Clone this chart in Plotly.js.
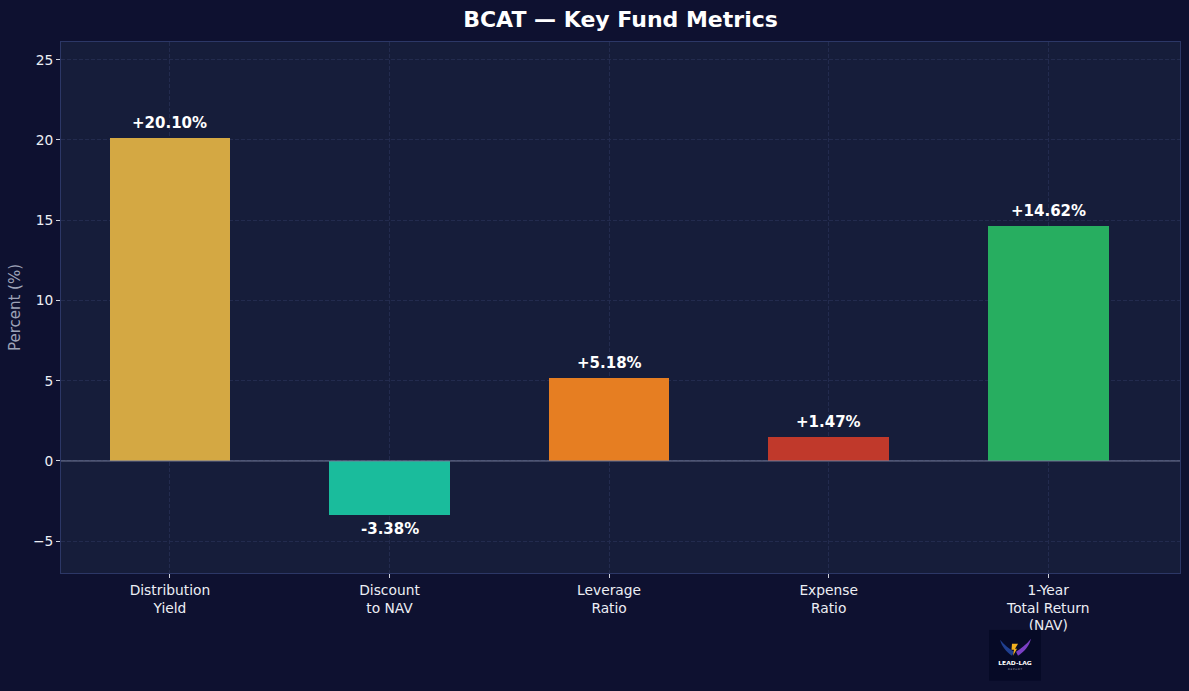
<!DOCTYPE html>
<html>
<head>
<meta charset="utf-8">
<script src="https://cdn.plot.ly/plotly-3.0.1.min.js"></script>
<style>html,body{margin:0;padding:0;background:#0e1130;}#chart{width:1189px;height:691px;}</style>
</head>
<body>
<div id="chart"></div>
<script>
const categories = ["Distribution<br>Yield", "Discount<br>to NAV", "Leverage<br>Ratio", "Expense<br>Ratio", "1-Year<br>Total Return<br>(NAV)"];
const values = [20.10, -3.38, 5.18, 1.47, 14.62];
const barColors = ["#d4a843", "#1abc9c", "#e67e22", "#c0392b", "#27ae60"];
const yTickVals = [-5, 0, 5, 10, 15, 20, 25];
const yTickText = ["\u22125", "0", "5", "10", "15", "20", "25"];

const xIdx = categories.map((c, i) => i);
const fmt = v => (v >= 0 ? "+" : "-") + Math.abs(v).toFixed(2) + "%";

const trace = {
  type: "bar",
  x: xIdx,
  y: values,
  width: 0.55,
  marker: {color: barColors, line: {width: 0}},
  hoverinfo: "skip"
};

const annotations = values.map((v, i) => ({
  x: i, y: v, xref: "x", yref: "y",
  text: "<b>" + fmt(v) + "</b>",
  showarrow: false,
  yanchor: v >= 0 ? "bottom" : "top",
  yshift: v >= 0 ? 4 : -3,
  font: {family: "DejaVu Sans", size: 15, color: "#ffffff"}
}));

const logoSvg = '<svg xmlns="http://www.w3.org/2000/svg" width="104" height="102" viewBox="0 0 104 102">' +
  '<rect width="104" height="102" fill="#060a26"/>' +
  '<path d="M50 44 C40 38 30 30 22 20 C26 34 34 44 46 52 Z" fill="#1f3f8f"/>' +
  '<path d="M54 44 C64 38 74 30 84 18 C80 34 70 44 58 52 Z" fill="#7b3fc4"/>' +
  '<path d="M46 28 L58 28 L52 38 L56 38 L48 52 L50 40 L45 40 Z" fill="#f2b01e"/>' +
  '<text x="52" y="70" font-family="DejaVu Sans" font-weight="bold" font-size="12" fill="#ffffff" text-anchor="middle">LEAD-LAG</text>' +
  '<text x="52" y="80" font-family="DejaVu Sans" font-size="5" fill="#aab" text-anchor="middle">R E P O R T</text>' +
  '</svg>';
const logoUri = "data:image/svg+xml;base64," + btoa(logoSvg);

const layout = {
  width: 1189, height: 691,
  paper_bgcolor: "#0e1130",
  plot_bgcolor: "#161d3a",
  margin: {l: 61, r: 9, t: 42, b: 118},
  showlegend: false,
  bargap: 0,
  title: {
    text: "<b>BCAT — Key Fund Metrics</b>",
    x: 0.5, xref: "paper", y: 0.972, yanchor: "middle",
    font: {family: "DejaVu Sans", size: 22, color: "#ffffff"}
  },
  xaxis: {
    range: [-0.496, 4.6],
    tickmode: "array", tickvals: xIdx, ticktext: categories,
    ticks: "outside", ticklen: 4, tickcolor: "#d0d3dd",
    tickfont: {family: "DejaVu Sans", size: 13.8, color: "#eceef4"},
    showgrid: true, gridcolor: "#232b4e", griddash: "4px,2px", gridwidth: 1,
    showline: true, linecolor: "#2c3766", linewidth: 1, mirror: true,
    zeroline: false, fixedrange: true
  },
  yaxis: {
    range: [-6.98, 26.1],
    tickmode: "array", tickvals: yTickVals, ticktext: yTickText,
    ticks: "outside", ticklen: 4, tickcolor: "#d0d3dd",
    tickfont: {family: "DejaVu Sans", size: 13.8, color: "#eceef4"},
    showgrid: true, gridcolor: "#232b4e", griddash: "4px,2px", gridwidth: 1,
    showline: true, linecolor: "#2c3766", linewidth: 1, mirror: true,
    zeroline: false,
    title: {text: "Percent (%)", standoff: 8, font: {family: "DejaVu Sans", size: 15, color: "#9ea3b8"}},
    fixedrange: true
  },
  shapes: [{
    type: "line", xref: "paper", yref: "y", x0: 0, x1: 1, y0: 0, y1: 0,
    line: {color: "#747c98", width: 1}, layer: "above"
  }],
  annotations: annotations,
  images: [{
    source: logoUri, xref: "paper", yref: "paper",
    x: 0.8293, y: -0.107, sizex: 0.0465, sizey: 0.096,
    xanchor: "left", yanchor: "top", sizing: "stretch", layer: "above"
  }]
};

Plotly.newPlot("chart", [trace], layout, {displayModeBar: false, staticPlot: true});
</script>
</body>
</html>
